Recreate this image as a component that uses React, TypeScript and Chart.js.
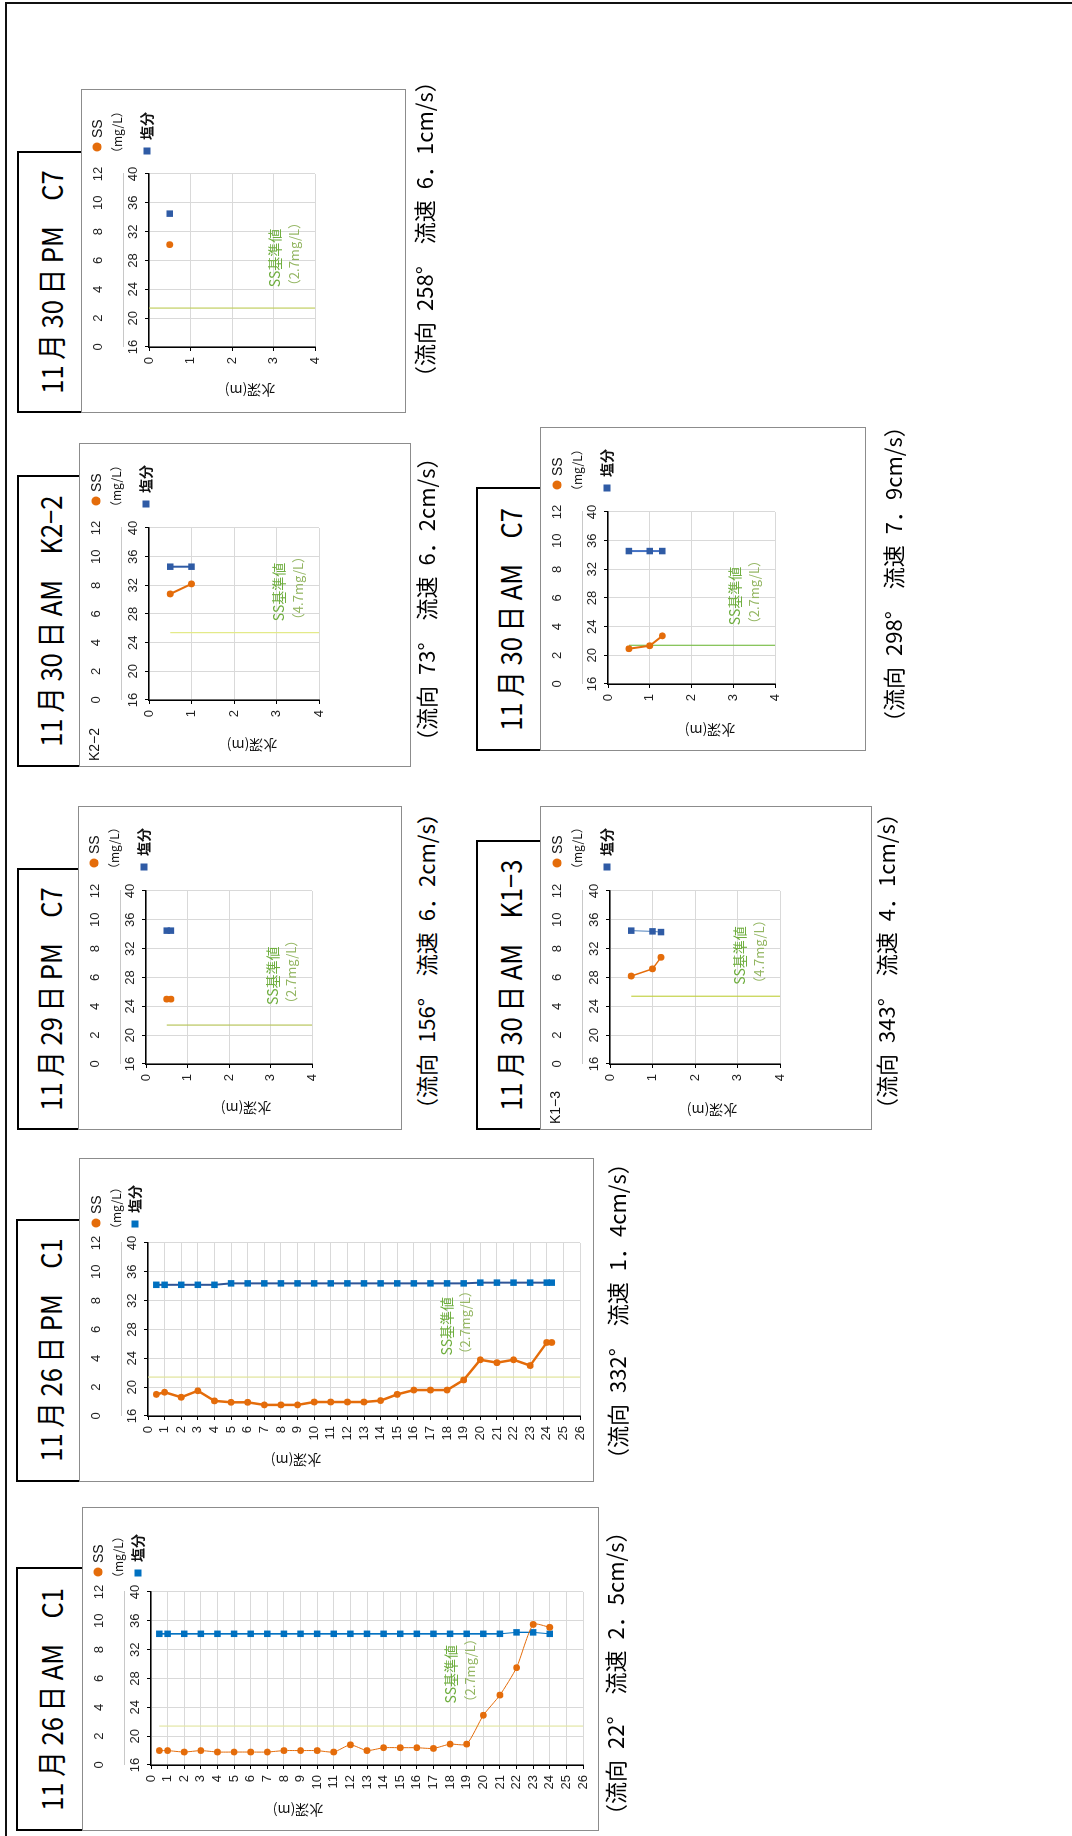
import React, { useEffect, useRef } from "react";
import { Chart, registerables } from "chart.js";

Chart.register(...registerables);
Chart.defaults.font.family = "'Liberation Sans', Arial, sans-serif";

// ---------------- data ----------------
// axis tick values
const ssTickValues = [0, 2, 4, 6, 8, 10, 12];
const saltTickValues = [16, 20, 24, 28, 32, 36, 40];
const deepTicks = [0, 1, 2, 3, 4, 5, 6, 7, 8, 9, 10, 11, 12, 13, 14, 15, 16, 17, 18, 19, 20, 21, 22, 23, 24, 25, 26];
const shallowTicks = [0, 1, 2, 3, 4];

// 11/26 AM C1
const p1Depth = [0.5, 1, 2, 3, 4, 5, 6, 7, 8, 9, 10, 11, 12, 13, 14, 15, 16, 17, 18, 19, 20, 21, 22, 23, 24];
const p1SS = [1.0, 1.0, 0.9, 1.0, 0.9, 0.9, 0.9, 0.9, 1.0, 1.0, 1.0, 0.9, 1.4, 1.0, 1.2, 1.2, 1.2, 1.15, 1.45, 1.45, 3.45, 4.85, 6.75, 9.75, 9.55];
const p1Salt = [34.2, 34.2, 34.2, 34.2, 34.2, 34.2, 34.2, 34.2, 34.2, 34.2, 34.2, 34.2, 34.2, 34.2, 34.2, 34.2, 34.2, 34.2, 34.2, 34.2, 34.2, 34.2, 34.4, 34.4, 34.2];

// 11/26 PM C1
const p2Depth = [0.5, 1, 2, 3, 4, 5, 6, 7, 8, 9, 10, 11, 12, 13, 14, 15, 16, 17, 18, 19, 20, 21, 22, 23, 24, 24.3];
const p2SS = [1.5, 1.65, 1.3, 1.75, 1.05, 0.95, 0.95, 0.77, 0.77, 0.77, 0.97, 0.97, 0.97, 0.97, 1.07, 1.5, 1.8, 1.8, 1.8, 2.5, 3.9, 3.7, 3.9, 3.5, 5.1, 5.1];
const p2Salt = [34.2, 34.2, 34.2, 34.2, 34.2, 34.4, 34.4, 34.4, 34.4, 34.4, 34.4, 34.4, 34.4, 34.4, 34.4, 34.4, 34.4, 34.4, 34.4, 34.4, 34.5, 34.5, 34.5, 34.5, 34.5, 34.5];

// 11/29 PM C7
const p3Depth = [0.5, 0.6];
const p3SS = [4.5, 4.5];
const p3Salt = [34.5, 34.5];

// 11/30 AM K1-3
const p4Depth = [0.5, 1.0, 1.2];
const p4SS = [6.1, 6.6, 7.4];
const p4Salt = [34.5, 34.4, 34.3];

// 11/30 AM K2-2
const p5Depth = [0.5, 1.0];
const p5SS = [7.4, 8.1];
const p5Salt = [34.6, 34.6];

// 11/30 AM C7
const p6Depth = [0.5, 1.0, 1.3];
const p6SS = [2.46, 2.67, 3.36];
const p6Salt = [34.55, 34.55, 34.55];

// 11/30 PM C7
const p7Depth = [0.5];
const p7SS = [7.1];
const p7Salt = [34.5];

// SS standard values (mg/L)
const stdValues = [2.7, 2.7, 2.7, 4.7, 4.7, 2.7, 2.7];

const titles = [
  "11 月 26 日 AM\u3000C1",
  "11 月 26 日 PM\u3000C1",
  "11 月 29 日 PM\u3000C7",
  "11 月 30 日 AM\u3000K1\u22123",
  "11 月 30 日 AM\u3000K2\u22122",
  "11 月 30 日 AM\u3000C7",
  "11 月 30 日 PM\u3000C7",
];
const notes = [
  "（流向\u200222°\u3000流速\u20022．5cm/s）",
  "（流向\u2002332°\u3000流速\u20021．4cm/s）",
  "（流向\u2002156°\u3000流速\u20026．2cm/s）",
  "（流向\u2002343°\u3000流速\u20024．1cm/s）",
  "（流向\u200273°\u3000流速\u20026．2cm/s）",
  "（流向\u2002298°\u3000流速\u20027．9cm/s）",
  "（流向\u2002258°\u3000流速\u20026．1cm/s）",
];
const smallTitles = ["", "", "", "K1\u22123", "K2\u22122", "", ""];

// ---------------- styles / layout (unrotated frame 1836 x 1072) ----------------
const ORANGE = "#E46C0A";
const CJK = "'Noto Sans CJK JP', 'Noto Sans', sans-serif";
const LAT = "'Liberation Sans', Arial, sans-serif";

type Panel = {
  depth: number[]; ss: number[]; salt: number[]; ticks: number[]; dmax: number;
  box: { x: number; y: number; w: number; h: number };
  plot: { l: number; t: number; r: number; b: number };
  title: { x: number; y: number; w: number; h: number };
  ann: { x: number; y: number };
  dot: [number, number]; sq: [number, number]; yTitle: [number, number];
  stdFrom: number; stdColor: string;
  green: { ss: number; d1: number; d2: number };
  saltColor: string; saltLine: string; ssLw: number; saltLw: number; tension: number;
};

const panels: Panel[] = [
  {
    depth: p1Depth, ss: p1SS, salt: p1Salt, ticks: deepTicks, dmax: 26,
    box: { x: 5, y: 82, w: 324, h: 517 }, plot: { l: 66, t: 69, r: 239, b: 501 },
    title: { x: 5, y: 16, w: 264, h: 66 }, ann: { x: 10, y: 614 },
    dot: [259, 16], sq: [258, 56], yTitle: [21, 216], stdFrom: 0.5, stdColor: "#E3E6A6",
    green: { ss: 4.27, d1: 18.06, d2: 19.2 },
    saltColor: "#0070C0", saltLine: "#0070C0", ssLw: 1, saltLw: 1, tension: 0.2,
  },
  {
    depth: p2Depth, ss: p2SS, salt: p2Salt, ticks: deepTicks, dmax: 26,
    box: { x: 354, y: 79, w: 324, h: 515 }, plot: { l: 66, t: 69, r: 239, b: 501 },
    title: { x: 354, y: 16, w: 263, h: 63 }, ann: { x: 366, y: 616 },
    dot: [259, 17], sq: [258, 56], yTitle: [22, 217], stdFrom: 0, stdColor: "#E0E49A",
    green: { ss: 4.2, d1: 18.0, d2: 19.1 },
    saltColor: "#0070C0", saltLine: "#2F5597", ssLw: 2.5, saltLw: 2, tension: 0,
  },
  {
    depth: p3Depth, ss: p3SS, salt: p3Salt, ticks: shallowTicks, dmax: 4,
    box: { x: 706, y: 78, w: 324, h: 324 }, plot: { l: 66, t: 68, r: 239, b: 234 },
    title: { x: 706, y: 17, w: 262, h: 61 }, ann: { x: 716, y: 425 },
    dot: [267, 16], sq: [263, 66], yTitle: [22, 168], stdFrom: 0.5, stdColor: "#B8C65E",
    green: { ss: 4.1, d1: 3.06, d2: 3.5 },
    saltColor: "#2F5BA5", saltLine: "#2F5BA5", ssLw: 2, saltLw: 2, tension: 0,
  },
  {
    depth: p4Depth, ss: p4SS, salt: p4Salt, ticks: shallowTicks, dmax: 4,
    box: { x: 706, y: 540, w: 324, h: 332 }, plot: { l: 66, t: 70, r: 239, b: 240 },
    title: { x: 706, y: 476, w: 290, h: 64 }, ann: { x: 716, y: 885 },
    dot: [267, 17], sq: [263, 67], yTitle: [20, 172], stdFrom: 0.5, stdColor: "#C5D24A",
    green: { ss: 5.5, d1: 3.04, d2: 3.5 },
    saltColor: "#2F5BA5", saltLine: "#4F81BD", ssLw: 1.5, saltLw: 1, tension: 0,
  },
  {
    depth: p5Depth, ss: p5SS, salt: p5Salt, ticks: shallowTicks, dmax: 4,
    box: { x: 1069, y: 79, w: 324, h: 332 }, plot: { l: 67, t: 70, r: 239, b: 240 },
    title: { x: 1069, y: 17, w: 292, h: 62 }, ann: { x: 1084, y: 425 },
    dot: [266, 17], sq: [263, 67], yTitle: [22, 173], stdFrom: 0.5, stdColor: "#E3EA86",
    green: { ss: 5.5, d1: 3.06, d2: 3.5 },
    saltColor: "#2F5BA5", saltLine: "#2F5BA5", ssLw: 2, saltLw: 2, tension: 0,
  },
  {
    depth: p6Depth, ss: p6SS, salt: p6Salt, ticks: shallowTicks, dmax: 4,
    box: { x: 1085, y: 540, w: 324, h: 326 }, plot: { l: 67, t: 68, r: 239, b: 235 },
    title: { x: 1085, y: 476, w: 264, h: 64 }, ann: { x: 1103, y: 892 },
    dot: [266, 17], sq: [263, 67], yTitle: [21, 170], stdFrom: 0.5, stdColor: "#7DBF4E",
    green: { ss: 4.1, d1: 3.04, d2: 3.5 },
    saltColor: "#2F5BA5", saltLine: "#4472C4", ssLw: 2, saltLw: 2, tension: 0,
  },
  {
    depth: p7Depth, ss: p7SS, salt: p7Salt, ticks: shallowTicks, dmax: 4,
    box: { x: 1423, y: 81, w: 324, h: 325 }, plot: { l: 66, t: 68, r: 239, b: 234 },
    title: { x: 1423, y: 17, w: 262, h: 64 }, ann: { x: 1448, y: 423 },
    dot: [266, 16], sq: [262, 66], yTitle: [23, 169], stdFrom: 0, stdColor: "#C2CF62",
    green: { ss: 4.15, d1: 3.04, d2: 3.5 },
    saltColor: "#2F5BA5", saltLine: "#2F5BA5", ssLw: 2, saltLw: 2, tension: 0,
  },
];

const SEP = 42;

function buildConfig(p: Panel, i: number): any {
  const std = stdValues[i];
  const small = smallTitles[i];
  const decor = {
    id: "decor" + i,
    afterDatasetsDraw(chart: any) {
      const ctx = chart.ctx;
      const xs = chart.scales.xSS;
      const ys = chart.scales.y;
      ctx.save();
      ctx.textAlign = "left";
      ctx.textBaseline = "middle";
      ctx.font = "14px " + CJK;
      ctx.fillStyle = "#6FAE3F";
      ctx.fillText("SS基準値", xs.getPixelForValue(p.green.ss), ys.getPixelForValue(p.green.d1));
      ctx.font = "13px " + CJK;
      ctx.fillStyle = "#94B663";
      ctx.fillText("（" + std + "mg/L）", xs.getPixelForValue(p.green.ss) - 5, ys.getPixelForValue(p.green.d2));
      ctx.restore();
    },
    afterDraw(chart: any) {
      const ctx = chart.ctx;
      ctx.save();
      // outer box
      ctx.strokeStyle = "#8C8C8C";
      ctx.lineWidth = 1;
      ctx.strokeRect(0.5, 0.5, p.box.w - 1, p.box.h - 1);
      // legend
      ctx.textAlign = "left";
      ctx.textBaseline = "middle";
      ctx.fillStyle = ORANGE;
      ctx.beginPath();
      ctx.arc(p.dot[0], p.dot[1], 4.5, 0, Math.PI * 2);
      ctx.fill();
      ctx.fillStyle = "#111";
      ctx.font = "14px " + LAT;
      ctx.fillText("SS", p.dot[0] + 9, p.dot[1] + 1);
      ctx.font = "12px " + CJK;
      ctx.fillText("（mg/L）", p.dot[0] - 12, p.dot[1] + 20);
      ctx.fillStyle = p.saltColor;
      ctx.fillRect(p.sq[0] - 3.5, p.sq[1] - 3.5, 7, 7);
      ctx.fillStyle = "#111";
      ctx.font = "bold 14px " + CJK;
      ctx.fillText("塩分", p.sq[0] + 11, p.sq[1]);
      // depth axis title
      ctx.save();
      ctx.translate(p.yTitle[0], p.yTitle[1]);
      ctx.rotate(-Math.PI / 2);
      ctx.textAlign = "center";
      ctx.font = "14px " + CJK;
      ctx.fillText("水深(m)", 0, 0);
      ctx.restore();
      if (small) {
        ctx.font = "14px " + LAT;
        ctx.fillText(small, 6, 16);
      }
      ctx.restore();
    },
  };

  const tickFont = { size: 13, family: LAT };
  return {
    type: "scatter",
    data: {
      datasets: [
        {
          label: "SS基準値",
          data: [{ x: std, y: p.stdFrom }, { x: std, y: p.dmax }],
          xAxisID: "xSS", yAxisID: "y", showLine: true,
          borderColor: p.stdColor, borderWidth: 1.2, pointRadius: 0, order: 3,
        },
        {
          label: "塩分",
          data: p.depth.map((d, k) => ({ x: p.salt[k], y: d })),
          xAxisID: "xSal", yAxisID: "y", showLine: true,
          borderColor: p.saltLine, borderWidth: p.saltLw,
          backgroundColor: p.saltColor, pointBackgroundColor: p.saltColor, pointBorderColor: p.saltColor,
          pointStyle: "rect", pointRadius: 4.6, pointBorderWidth: 0, order: 2,
        },
        {
          label: "SS",
          data: p.depth.map((d, k) => ({ x: p.ss[k], y: d })),
          xAxisID: "xSS", yAxisID: "y", showLine: true, tension: p.tension,
          borderColor: ORANGE, borderWidth: p.ssLw,
          backgroundColor: ORANGE, pointBackgroundColor: ORANGE, pointBorderColor: ORANGE,
          pointRadius: 3.4, pointBorderWidth: 0, order: 1,
        },
      ],
    },
    options: {
      responsive: false,
      animation: false,
      devicePixelRatio: 1,
      layout: { padding: { left: 0, top: 0, right: p.box.w - p.plot.r, bottom: p.box.h - p.plot.b } },
      plugins: { legend: { display: false }, tooltip: { enabled: false } },
      scales: {
        xSS: {
          type: "linear", position: "top", min: 0, max: 12, weight: 2,
          afterBuildTicks: (s: any) => { s.ticks = ssTickValues.map((v) => ({ value: v })); },
          afterFit: (s: any) => { s.height = SEP; },
          grid: { display: false },
          border: { display: true, color: "#C8C8C8", width: 1 },
          ticks: { font: tickFont, color: "#222", padding: 9, maxRotation: 0, callback: (v: any) => String(v) },
        },
        xSal: {
          type: "linear", position: "top", min: 16, max: 40, weight: 1,
          afterBuildTicks: (s: any) => { s.ticks = saltTickValues.map((v) => ({ value: v })); },
          afterFit: (s: any) => { s.height = p.plot.t - SEP; },
          grid: { color: "#D9D9D9", tickColor: "#000", tickLength: 4, lineWidth: 1 },
          border: { display: true, color: "#000", width: 1.5 },
          ticks: { font: tickFont, color: "#222", padding: 4, maxRotation: 0, callback: (v: any) => String(v) },
        },
        y: {
          type: "linear", position: "left", reverse: true, min: 0, max: p.dmax,
          afterBuildTicks: (s: any) => { s.ticks = p.ticks.map((v) => ({ value: v })); },
          afterFit: (s: any) => { s.width = p.plot.l; },
          grid: { color: "#D9D9D9", tickColor: "#000", tickLength: 4, lineWidth: 1 },
          border: { display: true, color: "#000", width: 1.5 },
          ticks: { font: tickFont, color: "#222", padding: 6, autoSkip: false, callback: (v: any) => String(v) },
        },
      },
    },
    plugins: [decor],
  };
}

function PanelView({ p, i }: { p: Panel; i: number }) {
  const ref = useRef<HTMLCanvasElement>(null);
  useEffect(() => {
    const chart = new Chart(ref.current as HTMLCanvasElement, buildConfig(p, i));
    return () => chart.destroy();
  }, []);
  return (
    <>
      <div
        style={{
          position: "absolute", left: p.title.x, top: p.title.y, width: p.title.w, height: p.title.h,
          boxSizing: "border-box", borderTop: "2px solid #000", borderLeft: "2px solid #000", borderRight: "2px solid #000",
          display: "flex", alignItems: "center", justifyContent: "center",
          fontFamily: CJK, fontSize: 29, whiteSpace: "nowrap", color: "#000",
        }}
      >
        <span style={{ display: "inline-block", transform: "scaleX(0.88)" }}>{titles[i]}</span>
      </div>
      <canvas
        ref={ref}
        width={p.box.w}
        height={p.box.h}
        style={{ position: "absolute", left: p.box.x, top: p.box.y, width: p.box.w, height: p.box.h }}
      />
      <div
        style={{
          position: "absolute", left: p.ann.x, top: p.ann.y - 16, height: 32, lineHeight: "32px",
          fontFamily: CJK, fontSize: 22, whiteSpace: "nowrap", color: "#000",
        }}
      >
        {notes[i]}
      </div>
    </>
  );
}

export default function App() {
  useEffect(() => {
    document.body.style.margin = "0";
    document.body.style.overflow = "hidden";
    document.documentElement.style.overflow = "hidden";
  }, []);
  return (
    <div
      style={{
        position: "absolute", left: 0, top: 0, width: 1836, height: 1072, background: "#fff",
        transformOrigin: "0 0", transform: "translate(0px, 1836px) rotate(-90deg)", overflow: "hidden",
      }}
    >
      <div style={{ position: "absolute", left: 0, top: 5, width: 1834, height: 2, background: "#111" }} />
      <div style={{ position: "absolute", left: 1832, top: 5, width: 2, height: 1067, background: "#111" }} />
      {panels.map((p, i) => (
        <PanelView key={i} p={p} i={i} />
      ))}
    </div>
  );
}
